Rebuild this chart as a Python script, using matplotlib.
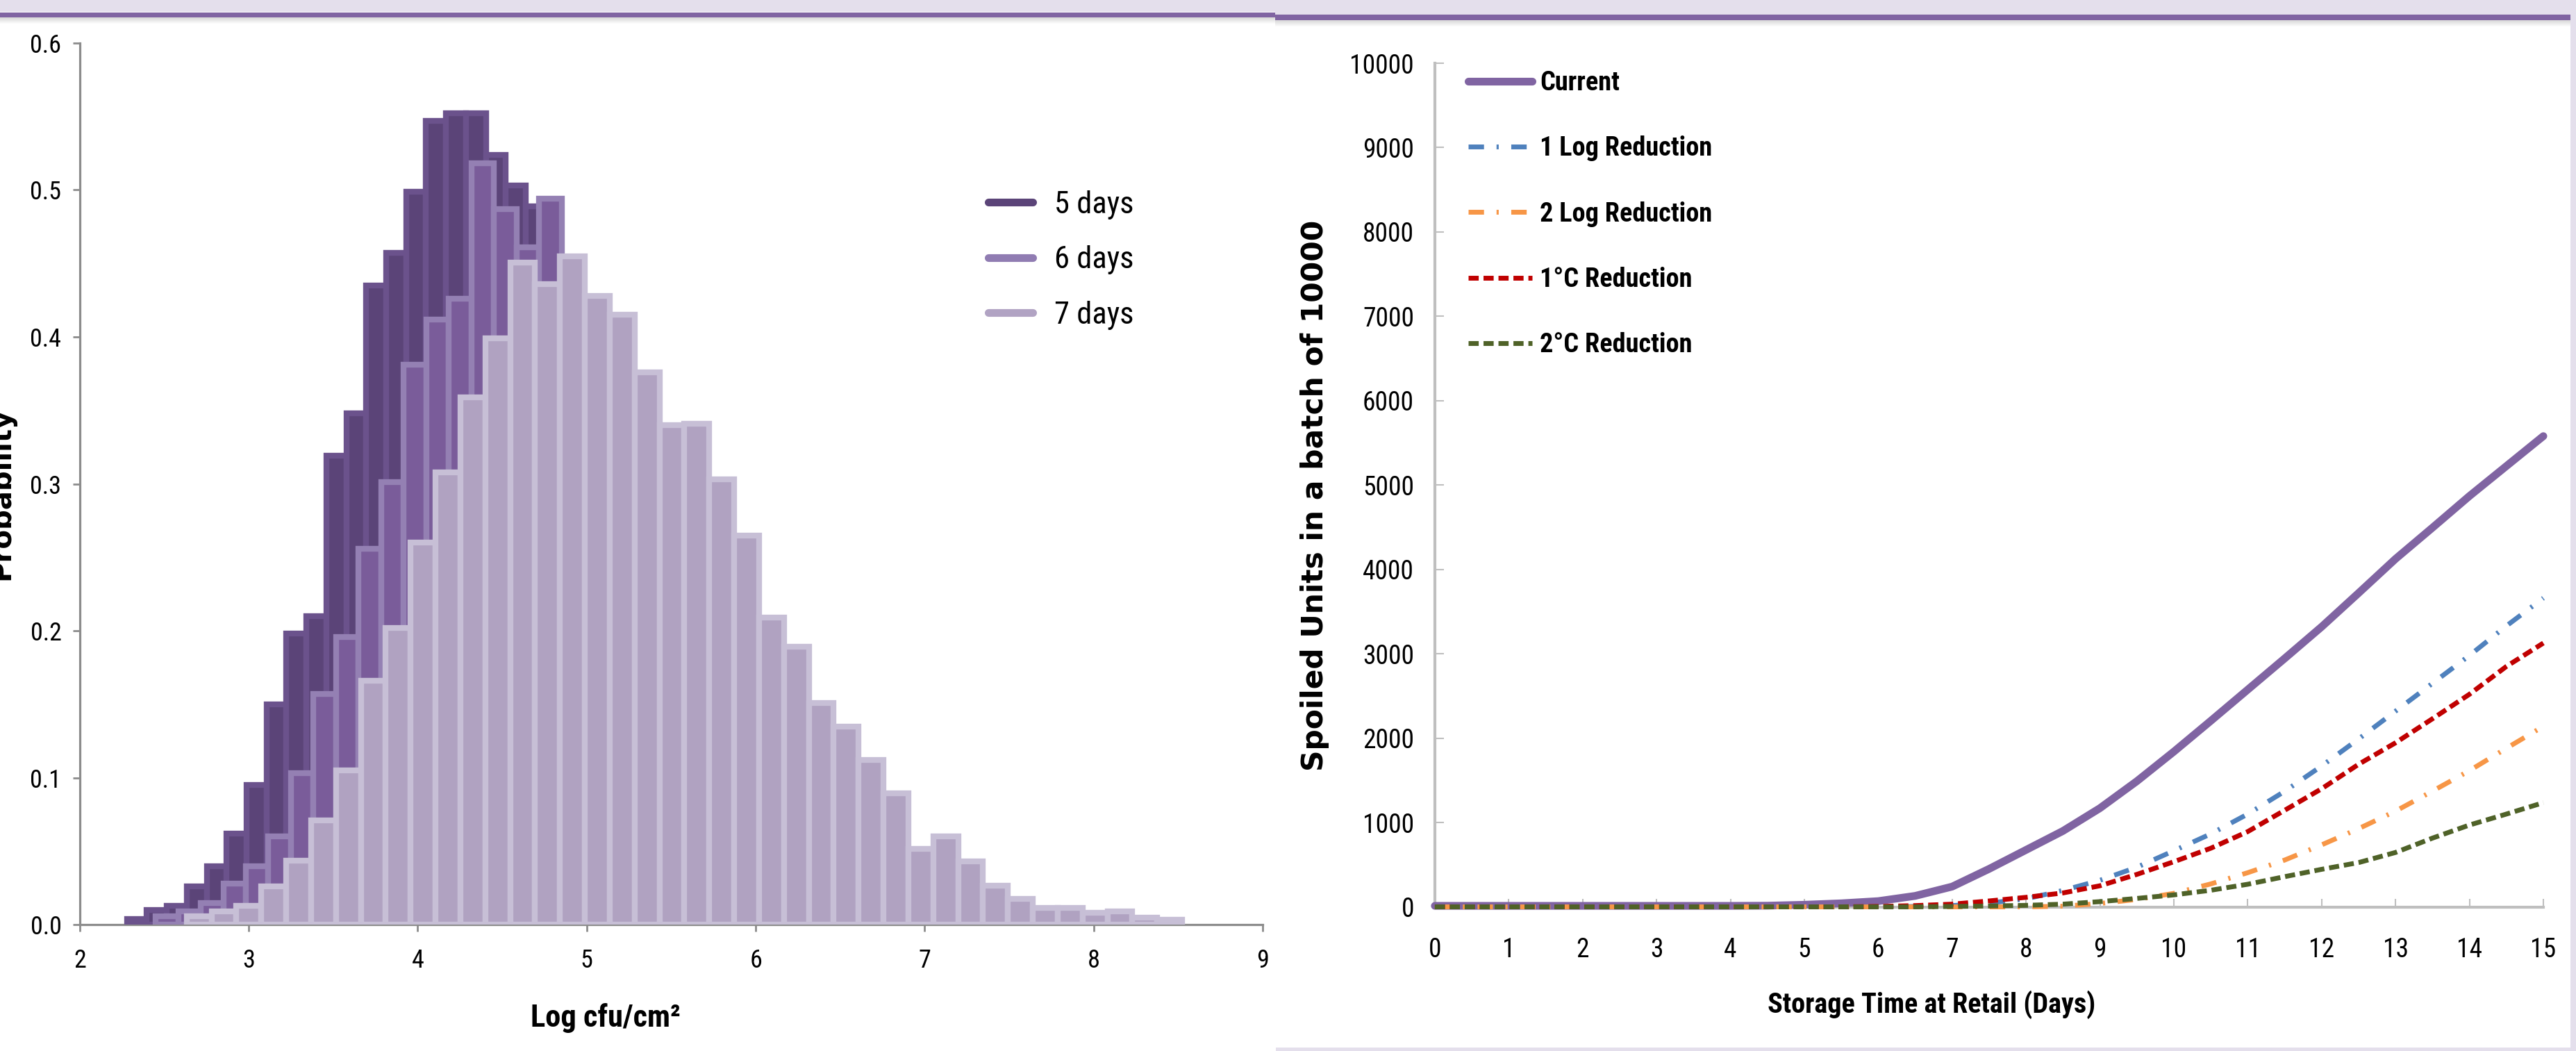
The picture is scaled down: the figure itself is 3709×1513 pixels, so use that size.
import matplotlib
matplotlib.use('Agg')
import matplotlib.pyplot as plt
from matplotlib import font_manager
from matplotlib.patches import Rectangle
from matplotlib.lines import Line2D
import numpy as np

W, H, DPI = 3709, 1513, 100


def pick(*names):
    for n in names:
        try:
            font_manager.findfont(font_manager.FontProperties(family=n), fallback_to_default=False)
            return n
        except Exception:
            pass
    return 'DejaVu Sans'


NARROW = pick('Liberation Sans Narrow', 'Roboto Condensed', 'Liberation Sans')
plt.rcParams['font.family'] = [NARROW, 'DejaVu Sans']

# ---------------- data: left histogram ----------------
hist_labels = ['5 days', '6 days', '7 days']
start_5days, width_5days = 2.279, 0.118
prob_5days = [0.004, 0.010, 0.013, 0.026, 0.040, 0.062, 0.095, 0.150, 0.198, 0.210,
              0.319, 0.348, 0.435, 0.457, 0.499, 0.547, 0.552, 0.552, 0.524, 0.503,
              0.489, 0.450, 0.425, 0.400, 0.370, 0.350, 0.320, 0.290, 0.250, 0.210,
              0.180, 0.150, 0.120, 0.095, 0.072, 0.054, 0.040, 0.028, 0.019, 0.012,
              0.007, 0.004]
start_6days, width_6days = 2.449, 0.1335
prob_6days = [0.006, 0.009, 0.015, 0.028, 0.040, 0.060, 0.103, 0.157, 0.196, 0.256,
              0.301, 0.381, 0.412, 0.426, 0.518, 0.487, 0.461, 0.494, 0.440, 0.410,
              0.390, 0.360, 0.320, 0.300, 0.270, 0.240, 0.200, 0.170, 0.140, 0.115,
              0.095, 0.075, 0.058, 0.044, 0.034, 0.026, 0.019, 0.013, 0.009, 0.006,
              0.004, 0.002]
start_7days, width_7days = 2.633, 0.14725
prob_7days = [0.006, 0.009, 0.013, 0.026, 0.0435, 0.071, 0.105, 0.166, 0.202, 0.260,
              0.308, 0.359, 0.399, 0.4505, 0.436, 0.455, 0.428, 0.415, 0.376, 0.340,
              0.341, 0.303, 0.265, 0.209, 0.189, 0.151, 0.135, 0.112, 0.0895, 0.0515,
              0.060, 0.043, 0.0265, 0.0176, 0.0113, 0.0113, 0.0081, 0.0093, 0.0049, 0.0037]
left_xticks = [2, 3, 4, 5, 6, 7, 8, 9]
left_yticks = [0.0, 0.1, 0.2, 0.3, 0.4, 0.5, 0.6]
left_ytick_labels = ['0.0', '0.1', '0.2', '0.3', '0.4', '0.5', '0.6']

# ---------------- data: right line chart ----------------
days = [0, 0.5, 1, 1.5, 2, 2.5, 3, 3.5, 4, 4.5, 5, 5.5, 6, 6.5, 7, 7.5, 8, 8.5,
        9, 9.5, 10, 10.5, 11, 11.5, 12, 12.5, 13, 13.5, 14, 14.5, 15]
line_labels = ['Current', '1 Log Reduction', '2 Log Reduction', '1°C Reduction', '2°C Reduction']
current = [12, 12, 12, 12, 12, 12, 12, 12, 12, 14, 25, 42, 68, 130, 240, 450, 675, 900,
           1170, 1490, 1840, 2205, 2575, 2945, 3320, 3720, 4125, 4495, 4870, 5225, 5580]
one_log = [0, 0, 0, 0, 0, 0, 0, 0, 0, 0, 0, 0, 0, 5, 15, 45, 95, 195,
           315, 470, 665, 865, 1100, 1370, 1670, 1990, 2320, 2650, 2980, 3330, 3660]
two_log = [0, 0, 0, 0, 0, 0, 0, 0, 0, 0, 0, 0, 0, 0, 0, 0, 0, 8,
           40, 88, 160, 272, 405, 555, 735, 927, 1135, 1372, 1615, 1880, 2140]
one_c = [0, 0, 0, 0, 0, 0, 0, 0, 0, 0, 0, 0, 5, 15, 32, 70, 113, 165,
         250, 385, 535, 695, 892, 1145, 1400, 1690, 1945, 2230, 2520, 2850, 3127]
two_c = [0, 0, 0, 0, 0, 0, 0, 0, 0, 0, 0, 0, 0, 0, 5, 10, 18, 32,
         62, 100, 142, 197, 268, 358, 445, 525, 645, 815, 970, 1100, 1235]
right_xticks = list(range(0, 16))
right_yticks = list(range(0, 10001, 1000))


def fx(x):
    return x / W


def fy(y):
    return 1 - y / H


fig = plt.figure(figsize=(W / DPI, H / DPI), dpi=DPI)
fig.patch.set_facecolor('white')

LAV = '#E4DFEC'
PUR = '#8064A2'
# background frame bits
fig.patches.append(Rectangle((0, fy(17)), 1, 17 / H, transform=fig.transFigure,
                             facecolor=LAV, edgecolor='none', zorder=0))
fig.patches.append(Rectangle((fx(1836), fy(21.5)), 1 - fx(1836), 21.5 / H, transform=fig.transFigure,
                             facecolor=LAV, edgecolor='none', zorder=0))
fig.patches.append(Rectangle((0, fy(25)), fx(1836), 7 / H, transform=fig.transFigure,
                             facecolor=PUR, edgecolor='none', zorder=1))
fig.patches.append(Rectangle((fx(1836), fy(28.5)), 1 - fx(1836), 7 / H, transform=fig.transFigure,
                             facecolor=PUR, edgecolor='none', zorder=1))
for i in range(9):
    a = 0.30 * (1 - i / 9)
    fig.patches.append(Rectangle((0, fy(26 + i)), fx(1836), 1 / H, transform=fig.transFigure,
                                 facecolor='#808080', alpha=a, edgecolor='none', zorder=1))
    fig.patches.append(Rectangle((fx(1836), fy(29.5 + i)), 1 - fx(1836), 1 / H, transform=fig.transFigure,
                                 facecolor='#808080', alpha=a, edgecolor='none', zorder=1))
fig.patches.append(Rectangle((fx(3701), 0), 1 - fx(3701), 1, transform=fig.transFigure,
                             facecolor=LAV, edgecolor='none', zorder=1))
fig.patches.append(Rectangle((fx(1837), 0), 1 - fx(1837), 5 / H, transform=fig.transFigure,
                             facecolor=LAV, edgecolor='none', zorder=1))

# ---------------- left axes ----------------
axL = fig.add_axes([fx(114.8), fy(1331.4), 1703.3 / W, 1269.6 / H])
axL.set_facecolor('none')
series = [
    (start_5days, width_5days, prob_5days, '#5B4478', '#6B528C', 3),
    (start_6days, width_6days, prob_6days, '#7A5C9A', '#9480B3', 4),
    (start_7days, width_7days, prob_7days, '#B0A2C1', '#C7BFD6', 5),
]
for start, w, vals, fc, ec, z in series:
    lefts = start + w * np.arange(len(vals))
    axL.bar(lefts, vals, width=w, align='edge', color=fc, edgecolor=ec, linewidth=6, zorder=z)
axL.set_xlim(2, 9)
axL.set_ylim(0, 0.6)
for s in ['top', 'right']:
    axL.spines[s].set_visible(False)
for s in ['left', 'bottom']:
    axL.spines[s].set_color('#8C8C8C')
    axL.spines[s].set_linewidth(2.3)
axL.set_xticks(left_xticks)
axL.set_yticks(left_yticks)
axL.set_yticklabels(left_ytick_labels)
axL.tick_params(axis='both', direction='out', length=7.5, width=2, color='#8C8C8C', labelsize=26)
axL.tick_params(axis='x', pad=17)
axL.tick_params(axis='y', pad=11.5)

legL_handles = [Line2D([], [], color=c, lw=8, solid_capstyle='round')
                for c in ['#5B4478', '#907CB2', '#B1A3C3']]
axL.legend(legL_handles, hist_labels, loc='upper left', bbox_to_anchor=(fx(1422.5), fy(274)),
           bbox_transform=fig.transFigure, frameon=False, fontsize=32, handlelength=1.45,
           handletextpad=0.7, labelspacing=0.84, borderpad=0, borderaxespad=0)

# ---------------- right axes ----------------
axR = fig.add_axes([fx(2065.9), fy(1305.5), 1596.1 / W, 1214.5 / H])
axR.set_facecolor('none')
styles = [
    (current, PUR, 8, None),
    (one_log, '#4F81BD', 5, (3.2, 2.6, 0.45, 2.6)),
    (two_log, '#F79646', 5, (3.2, 2.6, 0.45, 2.6)),
    (one_c, '#C00000', 5, (2.1, 1.0)),
    (two_c, '#4F6228', 5, (2.1, 1.0)),
]
handlesR = []
for vals, c, lw, d in styles:
    if d is None:
        ln, = axR.plot(days, vals, color=c, lw=lw, solid_capstyle='round', zorder=3, clip_on=False)
    else:
        ln, = axR.plot(days, vals, color=c, lw=lw, dashes=d, zorder=4, clip_on=False)
    handlesR.append(ln)
axR.set_xlim(0, 15)
axR.set_ylim(0, 10000)
for s in ['top', 'right']:
    axR.spines[s].set_visible(False)
for s in ['left', 'bottom']:
    axR.spines[s].set_color('#BFBFBF')
    axR.spines[s].set_linewidth(3)
axR.set_xticks(right_xticks)
axR.set_yticks(right_yticks)
axR.tick_params(axis='both', direction='in', length=9, width=1.5, color='#BFBFBF', labelsize=27)
axR.tick_params(axis='x', pad=31.5)
axR.tick_params(axis='y', pad=21.5)
axR.legend(handlesR, line_labels, loc='upper left', bbox_to_anchor=(fx(2114), fy(101)),
           bbox_transform=fig.transFigure, frameon=False,
           prop={'family': [NARROW, 'DejaVu Sans'], 'weight': 'bold', 'size': 27.5},
           handlelength=2.4, handletextpad=0.3, labelspacing=1.5, borderpad=0, borderaxespad=0)

# ---------------- axis titles ----------------
fig.text(fx(872), fy(1477.6), 'Log cfu/cm²', ha='center', va='baseline', fontsize=32, fontweight='bold')
fig.text(fx(13), fy(710.7), 'Probability', rotation=90, rotation_mode='anchor', ha='center',
         va='baseline', family='DejaVu Sans', fontweight='bold', fontsize=29)
fig.text(fx(1905), fy(713.5), 'Spoiled Units in a batch of 10000', rotation=90, rotation_mode='anchor',
         ha='center', va='baseline', family='DejaVu Sans', fontweight='bold', fontsize=30.5)
fig.text(fx(2781), fy(1458), 'Storage Time at Retail (Days)', ha='center', va='baseline',
         fontsize=29, fontweight='bold')

fig.savefig('out.png', dpi=DPI)
